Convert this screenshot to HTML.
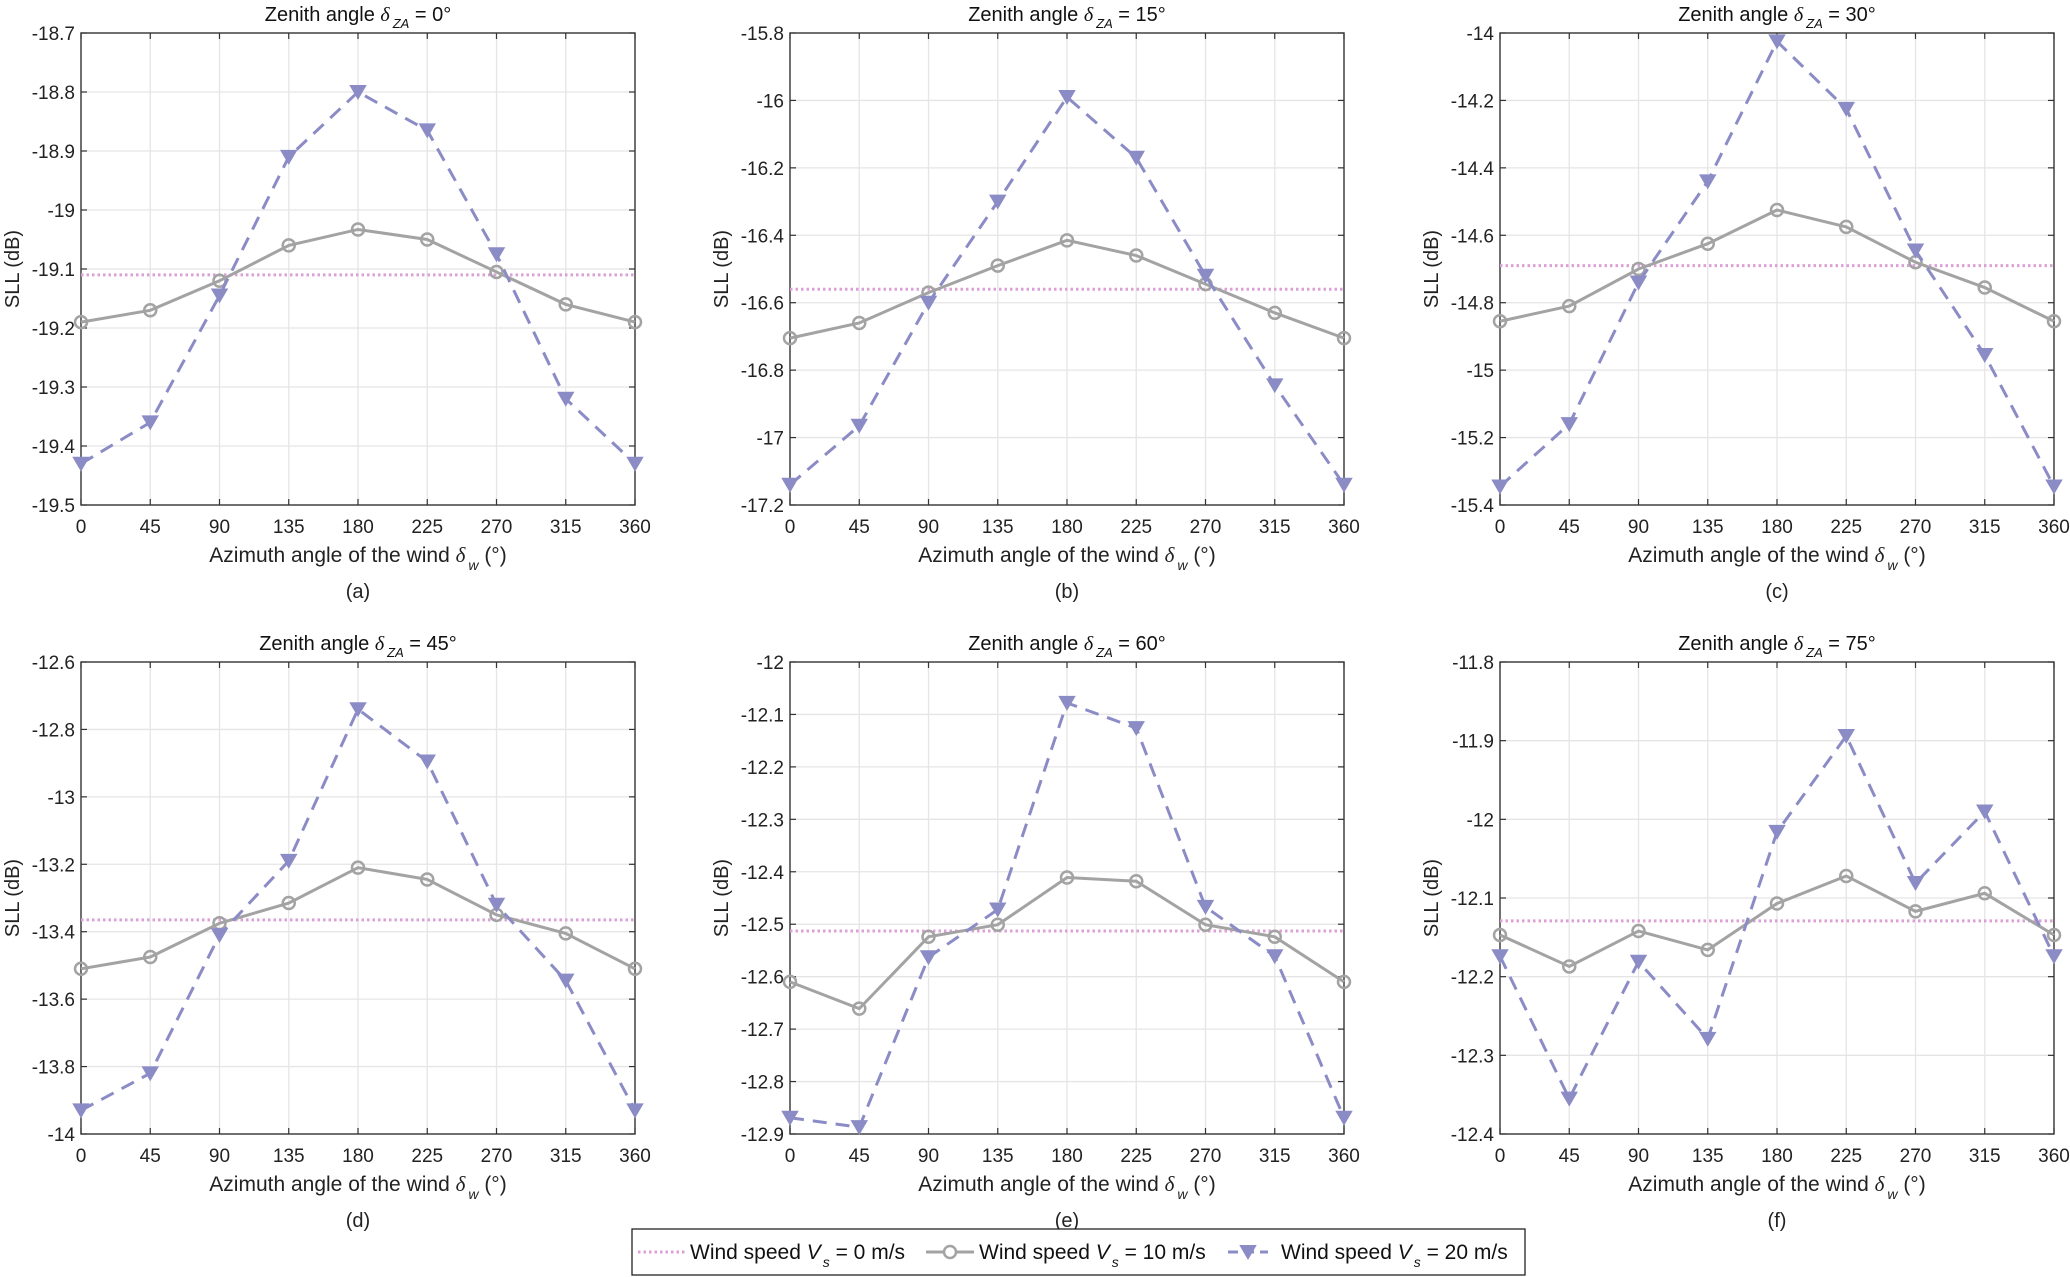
<!DOCTYPE html>
<html><head><meta charset="utf-8">
<style>
html,body{margin:0;padding:0;background:#fff;}
svg{display:block;font-family:"Liberation Sans",Arial,sans-serif;}
</style></head>
<body>
<svg id="fig" width="2070" height="1277" viewBox="0 0 2070 1277" xmlns="http://www.w3.org/2000/svg"></svg>
<script>
const xCats = [0,45,90,135,180,225,270,315,360];
const titles = ["0°","15°","30°","45°","60°","75°"];
const letters = ["(a)","(b)","(c)","(d)","(e)","(f)"];
const yMins = [-19.5,-17.2,-15.4,-14,-12.9,-12.4];
const yMaxs = [-18.7,-15.8,-14,-12.6,-12,-11.8];
const ySteps = [0.1,0.2,0.2,0.2,0.1,0.1];
const v0 = [-19.11,-16.56,-14.69,-13.365,-12.513,-12.129];
const v10a = [-19.19,-19.17,-19.12,-19.06,-19.033,-19.05,-19.105,-19.16,-19.19];
const v10b = [-16.705,-16.66,-16.57,-16.49,-16.415,-16.46,-16.545,-16.63,-16.705];
const v10c = [-14.855,-14.81,-14.70,-14.625,-14.525,-14.575,-14.68,-14.755,-14.855];
const v10d = [-13.51,-13.475,-13.375,-13.315,-13.21,-13.245,-13.35,-13.405,-13.51];
const v10e = [-12.61,-12.661,-12.524,-12.501,-12.411,-12.418,-12.501,-12.524,-12.61];
const v10f = [-12.147,-12.187,-12.142,-12.166,-12.107,-12.072,-12.117,-12.094,-12.147];
const v20a = [-19.43,-19.36,-19.145,-18.91,-18.8,-18.865,-19.075,-19.32,-19.43];
const v20b = [-17.14,-16.965,-16.6,-16.3,-15.99,-16.17,-16.52,-16.845,-17.14];
const v20c = [-15.345,-15.16,-14.74,-14.44,-14.025,-14.225,-14.645,-14.955,-15.345];
const v20d = [-13.93,-13.82,-13.41,-13.19,-12.74,-12.895,-13.32,-13.545,-13.93];
const v20e = [-12.869,-12.887,-12.563,-12.472,-12.078,-12.126,-12.467,-12.561,-12.869];
const v20f = [-12.174,-12.355,-12.181,-12.279,-12.016,-11.894,-12.081,-11.99,-12.174];
const v10 = [v10a,v10b,v10c,v10d,v10e,v10f];
const v20 = [v20a,v20b,v20c,v20d,v20e,v20f];

const NS="http://www.w3.org/2000/svg";
const svg=document.getElementById('fig');
function mk(tag,attrs,parent,text){const e=document.createElementNS(NS,tag);for(const k in attrs)e.setAttribute(k,attrs[k]);if(text!==undefined)e.textContent=text;(parent||svg).appendChild(e);return e;}
const colL=[81,790,1500], W=554;
const rowT=[33,662], H=472;
const C10="#a3a3a3", C20="#8b8cc6", C0="#dca0d8";

function tri(g,x,y){
  return mk('polygon',{points:`${x-7},${y-6} ${x+7},${y-6} ${x},${y+6}`,fill:C20,stroke:C20,'stroke-width':2},g);
}
function fmt(v){return String(parseFloat(v.toFixed(2)));}

for(let i=0;i<6;i++){
  const L=colL[i%3], T=rowT[Math.floor(i/3)], R=L+W, B=T+H;
  const g=mk('g',{});
  
  
  const xs=v=>L+(v-0)/360*W;
  const ys=v=>B-(v-yMins[i])/(yMaxs[i]-yMins[i])*H;
  const grid=mk('g',{},g);
  
  
  xCats.forEach(c=>{ if(c>0&&c<360) mk('line',{x1:xs(c),x2:xs(c),y1:T,y2:B,stroke:'#e5e5e5','stroke-width':1.3},grid);});
  const n=Math.round((yMaxs[i]-yMins[i])/ySteps[i]);
  const yt=[];for(let k=0;k<=n;k++)yt.push(yMins[i]+k*ySteps[i]);
  yt.forEach(v=>{ if(ys(v)>T+1&&ys(v)<B-1) mk('line',{x1:L,x2:R,y1:ys(v),y2:ys(v),stroke:'#e5e5e5','stroke-width':1.3},grid);});
  const xt=mk('g',{},g);
  
  
  xCats.forEach(c=>{
    mk('line',{x1:xs(c),x2:xs(c),y1:B,y2:B-6,stroke:'#333','stroke-width':1.2},g);
    mk('line',{x1:xs(c),x2:xs(c),y1:T,y2:T+6,stroke:'#333','stroke-width':1.2},g);
    mk('text',{x:xs(c),y:B+28,'text-anchor':'middle','font-size':19,fill:'#222'},xt,String(c));
  });
  const ytg=mk('g',{},g);
  
  
  yt.forEach(v=>{
    mk('line',{x1:L,x2:L+6,y1:ys(v),y2:ys(v),stroke:'#333','stroke-width':1.2},g);
    mk('line',{x1:R,x2:R-6,y1:ys(v),y2:ys(v),stroke:'#333','stroke-width':1.2},g);
    mk('text',{x:L-6,y:ys(v)+7,'text-anchor':'end','font-size':19,fill:'#222'},ytg,fmt(v));
  });
  mk('rect',{x:L,y:T,width:W,height:H,fill:'none',stroke:'#333','stroke-width':1.4},g);
  const s0=mk('line',{x1:xs(0),x2:xs(360),y1:ys(v0[i]),y2:ys(v0[i]),stroke:C0,'stroke-width':3,'stroke-dasharray':'2.5 3'},g);
  
  
  const g10=mk('g',{},g);
  
  
  mk('polyline',{points:xCats.map((c,k)=>xs(c)+','+ys(v10[i][k])).join(' '),fill:'none',stroke:C10,'stroke-width':3},g10);
  xCats.forEach((c,k)=>mk('circle',{cx:xs(c),cy:ys(v10[i][k]),r:6,fill:'none',stroke:C10,'stroke-width':2.5},g10));
  const g20=mk('g',{},g);
  
  
  mk('polyline',{points:xCats.map((c,k)=>xs(c)+','+ys(v20[i][k])).join(' '),fill:'none',stroke:C20,'stroke-width':3,'stroke-dasharray':'14 9'},g20);
  xCats.forEach((c,k)=>tri(g20,xs(c),ys(v20[i][k])));
  const cx=(L+R)/2;
  const tt=mk('text',{x:cx,y:T-12,'text-anchor':'middle','font-size':20,fill:'#111'},g);
  
  
  tt.innerHTML='Zenith angle <tspan font-family="Liberation Serif" font-style="italic">δ</tspan><tspan font-size="13" font-style="italic" dx="3" dy="7">ZA</tspan><tspan dy="-7"> = '+titles[i]+'</tspan>';
  const xl=mk('text',{x:cx,y:B+57,'text-anchor':'middle','font-size':21,fill:'#222'},g);
  
  
  xl.innerHTML='Azimuth angle of the wind  <tspan font-family="Liberation Serif" font-style="italic">δ</tspan><tspan font-size="14" font-style="italic" dx="3" dy="8">w</tspan><tspan dy="-8"> (°)</tspan>';
  const yl=mk('text',{x:0,y:0,'text-anchor':'middle','font-size':20,fill:'#222',transform:`translate(${L-62},${(T+B)/2}) rotate(-90)`},g,'SLL (dB)');
  
  
  const lt=mk('text',{x:cx,y:B+93,'text-anchor':'middle','font-size':20,fill:'#222'},g,letters[i]);
  
  
}
const lg=mk('g',{});


mk('rect',{x:632,y:1229,width:893,height:46,fill:'#fff',stroke:'#222','stroke-width':1.3},lg);
const ly=1252;
mk('line',{x1:638,x2:686,y1:ly,y2:ly,stroke:C0,'stroke-width':3,'stroke-dasharray':'2.5 3'},lg);
mk('line',{x1:926,x2:974,y1:ly,y2:ly,stroke:C10,'stroke-width':3},lg);
mk('circle',{cx:950,cy:ly,r:6,fill:'#fff',stroke:C10,'stroke-width':2.5},lg);
mk('line',{x1:1228,x2:1268,y1:ly,y2:ly,stroke:C20,'stroke-width':3,'stroke-dasharray':'10 6'},lg);
tri(lg,1248,ly);
const labs=[["0",690],["10",979],["20",1281]];
labs.forEach(([v,x])=>{
  const t=mk('text',{x:x,y:ly+7,'font-size':21,fill:'#111'},lg);
  
  
  t.innerHTML='Wind speed  <tspan font-style="italic">V</tspan><tspan font-size="14" font-style="italic" dx="2" dy="8">s</tspan><tspan dy="-8"> = '+v+' m/s</tspan>';
});
</script>
</body></html>
